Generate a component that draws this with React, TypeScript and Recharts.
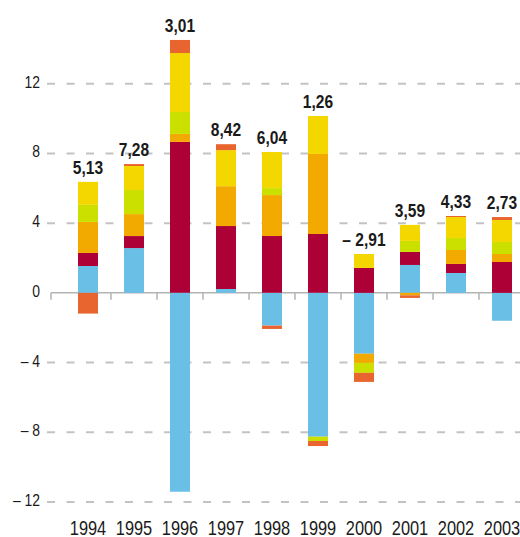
import { Bar, BarChart, CartesianGrid, LabelList, XAxis, YAxis } from "recharts";

const years = ["1994", "1995", "1996", "1997", "1998", "1999", "2000", "2001", "2002", "2003"];
const totals = ["5,13", "7,28", "3,01", "8,42", "6,04", "1,26", "– 2,91", "3,59", "4,33", "2,73"];

// series, bottom of the stack first
const blue = [1.54, 2.57, -11.41, 0.22, -1.88, -8.25, -3.49, 1.6, 1.14, -1.6];
const crimson = [0.75, 0.69, 8.66, 3.61, 3.26, 3.38, 1.43, 0.75, 0.52, 1.77];
const orange = [1.78, 1.26, 0.46, 2.29, 2.35, 4.59, -0.53, -0.14, 0.8, 0.46];
const lime = [0.98, 1.38, 1.26, 0, 0.4, -0.25, -0.57, 0.63, 0.69, 0.69];
const yellow = [1.32, 1.38, 3.38, 2.07, 2.07, 2.18, 0.8, 0.92, 1.2, 1.26];
const red = [-1.19, 0.11, 0.75, 0.34, -0.19, -0.29, -0.52, -0.15, 0.06, 0.17];

const yTicks = [-12, -8, -4, 0, 4, 8, 12];

const series = [
  { key: "blue", values: blue, color: "#6abfe6" },
  { key: "crimson", values: crimson, color: "#ad0037" },
  { key: "orange", values: orange, color: "#f2a900" },
  { key: "lime", values: lime, color: "#cce000" },
  { key: "yellow", values: yellow, color: "#f5d700" },
  { key: "red", values: red, color: "#e96530" },
];

// the total label sits on the highest positive segment of each column
const data = years.map((year, i) => {
  const row: Record<string, string | number> = { year };
  let top = "";
  series.forEach((s) => {
    row[s.key] = s.values[i];
    if (s.values[i] > 0) top = s.key;
  });
  series.forEach((s) => (row[`${s.key}Label`] = s.key === top ? totals[i] : ""));
  return row;
});

const FONT = "'Liberation Sans', Arial, sans-serif";
const SQUEEZE = 0.82; // narrow look of the original condensed face
const WIDTH = 530;
const HEIGHT = 537;
const MARGIN = { top: 14, right: 5, bottom: 0, left: 0 };
const X_AXIS_H = 35;
const Y_MIN = -12;
const Y_MAX = 16;
const PLOT_H = HEIGHT - MARGIN.top - MARGIN.bottom - X_AXIS_H;
const ZERO_Y = MARGIN.top + (PLOT_H * Y_MAX) / (Y_MAX - Y_MIN);
const AXIS_GREY = "#b3b3b3";

function NarrowText({ x, y, anchor, size, bold, children }: any) {
  return (
    <g transform={`translate(${x},${y}) scale(${SQUEEZE},1)`}>
      <text
        x={0}
        y={0}
        textAnchor={anchor}
        fontFamily={FONT}
        fontSize={size}
        fontWeight={bold ? "bold" : "normal"}
        fill="#1a1a1a"
      >
        {children}
      </text>
    </g>
  );
}

function YTick({ x, y, payload }: any) {
  const v = payload.value as number;
  const text = v < 0 ? `– ${-v}` : String(v);
  return (
    <NarrowText x={x - 7} y={y + 4} anchor="end" size={17}>
      {text}
    </NarrowText>
  );
}

function XTick({ x, y, payload, index }: any) {
  const half = payload.offset ?? 23;
  return (
    <g>
      {index > 0 && (
        <line x1={x - half} x2={x - half} y1={ZERO_Y} y2={ZERO_Y + 7} stroke={AXIS_GREY} strokeWidth={1.5} />
      )}
      <NarrowText x={x} y={y + 33} anchor="middle" size={20}>
        {payload.value}
      </NarrowText>
    </g>
  );
}

function ValueLabel({ x, y, width, value }: any) {
  if (!value) return null;
  return (
    <NarrowText x={x + width / 2} y={y - 8} anchor="middle" size={19} bold>
      {value}
    </NarrowText>
  );
}

export default function App() {
  return (
    <div style={{ position: "absolute", left: 0, top: 0, width: 520, height: 537, overflow: "hidden", background: "#fff" }}>
      <BarChart width={WIDTH} height={HEIGHT} data={data} margin={MARGIN} stackOffset="sign" barSize={20}>
        <CartesianGrid
          vertical={false}
          horizontalValues={[-12, -8, -4, 4, 8, 12]}
          stroke="#c3c3c3"
          strokeWidth={2}
          strokeDasharray="8 11.5"
        />
        <CartesianGrid
          vertical={false}
          horizontalValues={[0]}
          horizontal={(p: any) => (
            <g key={`zero-${p.index}`}>
              <line x1={p.x1 + 4} x2={p.x2} y1={p.y1} y2={p.y2} stroke={AXIS_GREY} strokeWidth={1.5} />
              <line x1={p.x1 + 4} x2={p.x1 + 4} y1={p.y1} y2={p.y1 + 7} stroke={AXIS_GREY} strokeWidth={1.5} />
            </g>
          )}
        />
        <XAxis
          dataKey="year"
          height={X_AXIS_H}
          padding={{ left: 18, right: 0 }}
          axisLine={false}
          tickLine={false}
          tickSize={0}
          tickMargin={0}
          interval={0}
          tick={<XTick />}
        />
        <YAxis
          width={47}
          domain={[Y_MIN, Y_MAX]}
          ticks={yTicks}
          axisLine={false}
          tickLine={false}
          tickSize={0}
          tickMargin={0}
          tick={<YTick />}
        />
        {series.map((s) => (
          <Bar key={s.key} dataKey={s.key} stackId="a" fill={s.color} isAnimationActive={false}>
            <LabelList dataKey={`${s.key}Label`} content={<ValueLabel />} />
          </Bar>
        ))}
      </BarChart>
    </div>
  );
}
